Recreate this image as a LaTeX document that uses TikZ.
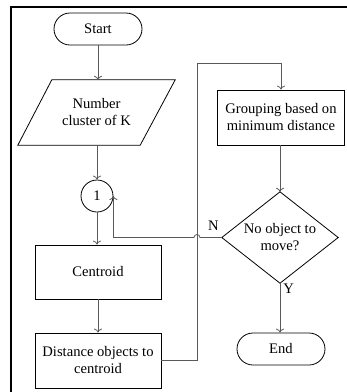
\documentclass[tikz,border=0pt]{standalone}
\usepackage{fontspec}
\setmainfont{Liberation Serif}
\usetikzlibrary{arrows.meta,calc}
\begin{document}
\begin{tikzpicture}[x=1pt,y=-1pt,
  every node/.style={font=\fontsize{14.6}{17}\selectfont, align=center, inner sep=2pt},
  box/.style={draw, line width=0.8pt, minimum width=126pt, minimum height=54pt},
  term/.style={draw, line width=0.8pt, rounded corners=16pt, minimum width=88pt, minimum height=32pt},
  ghost/.style={draw=none},
  conn/.style={draw=black!65, line width=0.8pt, -{To[length=4pt,width=8pt]}},
  plain/.style={draw=black!65, line width=0.8pt},
  shapeline/.style={draw, line width=0.8pt, line join=miter}
]
\useasboundingbox (0,0) rectangle (347,392);
\draw[line width=2.2pt] (11,392) -- (11,7) -- (347,7);

\node[term] (start) at (98,29) {Start};
\node[ghost, minimum width=157pt, minimum height=65pt] (input) at (96.5,112.5) {Number\\cluster of K};
\draw[shapeline] ($(input.north west)+(34,0)$) -- (input.north east) -- ($(input.south east)+(-35,0)$) -- (input.south west) -- cycle;
\node[draw, circle, line width=0.8pt, minimum size=32pt, inner sep=0pt] (c1) at (97,196) {1};
\node[box] (centroid) at (98,272) {Centroid};
\node[box, minimum height=55pt] (dist) at (98,360.5) {Distance objects to\\centroid};
\node[box, minimum width=127pt, minimum height=55pt] (group) at (281,117.5) {Grouping based on\\minimum distance};
\node[ghost, minimum width=116pt, minimum height=91pt] (dec) at (280,237.5) {No object to\\move?};
\draw[shapeline] (dec.north) -- (dec.east) -- (dec.south) -- (dec.west) -- cycle;
\node[term] (end) at (281,349) {End};

\coordinate (bend) at (197,63);

\draw[conn] (start.south) -- (start.south |- input.north);
\draw[conn] (input.south -| c1.north) -- (c1.north);
\draw[conn] (c1.south) -- (centroid.north -| c1.south);
\draw[conn] (centroid.south) -- (dist.north);
\draw[conn] (dist.east) -| (bend) -| (group.north);
\draw[conn] (group.south -| dec.north) -- (dec.north);
\draw[conn] (dec.south) -- (end.north -| dec.south) node[pos=0.12, right, inner sep=3pt] {Y};
\draw[conn] (dec.west) -- ($(bend |- dec.west)+(3,0)$) arc[start angle=0, end angle=-180, radius=3] -| (c1.east);
\node[anchor=south east, inner sep=1pt] (nlab) at ($(dec.west)+(-2,-6)$) {N};
\end{tikzpicture}
\end{document}
